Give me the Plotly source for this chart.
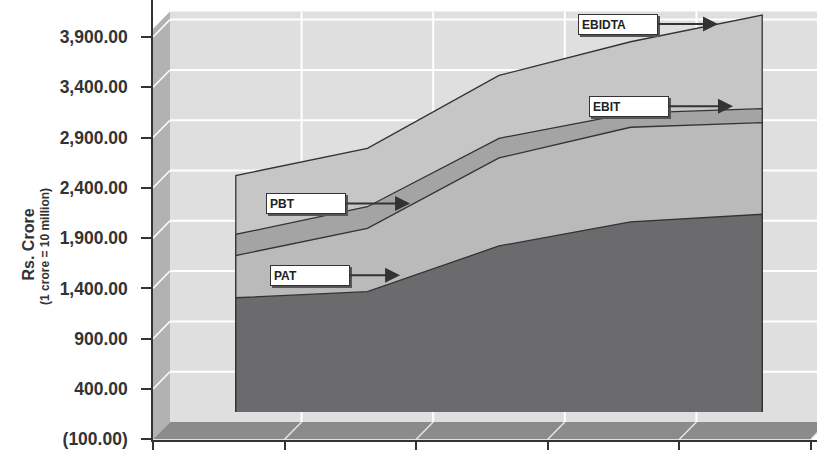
import numpy as np
import plotly.graph_objects as go

# ---- data (Rs. crore) ----
periods = [0, 1, 2, 3, 4]
ebidta = [2350, 2620, 3345, 3680, 3945]
ebit = [1765, 2040, 2720, 2970, 3015]
pbt = [1555, 1825, 2525, 2830, 2875]
pat = [1135, 1195, 1650, 1890, 1965]

tick_vals = [-100, 400, 900, 1400, 1900, 2400, 2900, 3400, 3900]
cat_edges = [-0.5, 0.5, 1.5, 2.5, 3.5, 4.5]


def fmt(v):
    s = f"{abs(v):,.2f}"
    return f"({s})" if v < 0 else s


tick_text = [fmt(v) for v in tick_vals]

# ---- geometry of the pseudo-3D box ----
W, H = 817, 450
ML, MR, MT, MB = 153, 0, 0, 6
PX_PER_CAT = 131.6
UNITS_PER_PX = 500 / 50.75
DX = 17 / PX_PER_CAT          # depth shift along x (category units)
DY = 17.5 * UNITS_PER_PX      # depth shift along y (value units)
x_range = [-0.5, -0.5 + (W - ML - MR) / PX_PER_CAT]
y_lo = -100 - 0.7 * UNITS_PER_PX
y_range = [y_lo, y_lo + (H - MT - MB) * UNITS_PER_PX]
WALL_TOP = 4152
BASE = -100

FONT = "Liberation Sans, Arial, sans-serif"
INK = "#333333"

fig = go.Figure()

shapes = []
# back wall
shapes.append(dict(type="rect", xref="x", yref="y", layer="below",
                   x0=-0.5 + DX, x1=6, y0=BASE + DY, y1=WALL_TOP,
                   fillcolor="#dfdfe0", line=dict(width=0)))
# side wall
shapes.append(dict(type="path", xref="x", yref="y", layer="below",
                   path=f"M {-0.5},{BASE} L {-0.5 + DX},{BASE + DY} "
                        f"L {-0.5 + DX},{WALL_TOP} L {-0.5},{WALL_TOP - DY} Z",
                   fillcolor="#b2b2b2", line=dict(width=0)))
# floor
shapes.append(dict(type="path", xref="x", yref="y", layer="below",
                   path=f"M {-0.5},{BASE} L {4.5},{BASE} L {4.5 + DX},{BASE + DY} "
                        f"L {-0.5 + DX},{BASE + DY} Z",
                   fillcolor="#8b8b8b", line=dict(width=0)))
# horizontal gridlines on back wall plus their diagonal on the side wall
for v in tick_vals[1:]:
    shapes.append(dict(type="line", xref="x", yref="y", layer="below",
                       x0=-0.5 + DX, x1=6, y0=v + DY, y1=v + DY,
                       line=dict(color="white", width=2)))
    shapes.append(dict(type="line", xref="x", yref="y", layer="below",
                       x0=-0.5, x1=-0.5 + DX, y0=v, y1=v + DY,
                       line=dict(color="white", width=1.5)))
# vertical gridlines on back wall plus their diagonal on the floor
for e in cat_edges[1:]:
    shapes.append(dict(type="line", xref="x", yref="y", layer="below",
                       x0=e + DX, x1=e + DX, y0=BASE + DY, y1=WALL_TOP,
                       line=dict(color="white", width=2)))
    shapes.append(dict(type="line", xref="x", yref="y", layer="below",
                       x0=e, x1=e + DX, y0=BASE, y1=BASE + DY,
                       line=dict(color="#e6e6e6", width=1.5)))

# ---- areas drawn on the back plane, largest first ----
series = [
    ("EBIDTA", ebidta, "#c6c6c6"),
    ("EBIT", ebit, "#a4a4a4"),
    ("PBT", pbt, "#bababa"),
    ("PAT", pat, "#6b6b6e"),
]
xs = np.array(periods, dtype=float) + DX
for name, vals, color in series:
    px = [xs[0]] + list(xs) + [xs[-1]]
    py = [DY] + [v + DY for v in vals] + [DY]
    fig.add_trace(go.Scatter(x=px, y=py, mode="lines", fill="toself",
                             fillcolor=color, line=dict(color=INK, width=1.3),
                             name=name, hoverinfo="skip", showlegend=False))

# ---- callout labels with arrows ----
callouts = [
    # name, values, category position of arrow tip, box offset (px), nudge (px)
    ("EBIDTA", ebidta, 3.664, -100, 0),
    ("EBIT", ebit, 3.778, -104, 3.5),
    ("PBT", pbt, 1.324, -104, 2),
    ("PAT", pat, 1.248, -90, 5),
]
annotations = []
for name, vals, pos, off, nudge in callouts:
    tip_y = float(np.interp(pos, periods, vals)) + DY
    common = dict(x=pos + DX, y=tip_y, xref="x", yref="y", axref="pixel",
                  ayref="pixel", ax=off, ay=0, width=72, height=13,
                  align="left", borderpad=3, borderwidth=1)
    # drop shadow
    annotations.append(dict(common, text=" ", bgcolor="#555555",
                            bordercolor="#555555",
                            showarrow=True, arrowcolor="rgba(0,0,0,0)",
                            xshift=2, yshift=nudge - 2))
    annotations.append(dict(common, text=f"<b>{name}</b>",
                            font=dict(family=FONT, size=12, color="#222222"),
                            bgcolor="white", bordercolor=INK,
                            showarrow=True, arrowhead=2, arrowsize=1.5,
                            arrowwidth=2, arrowcolor=INK, standoff=0,
                            yshift=nudge))

# axis title
annotations.append(dict(x=(17.5 - ML) / (W - ML - MR), y=(444 - 246.7) / 444,
                        xref="paper", yref="paper", showarrow=False,
                        text="<b>Rs. Crore</b>", textangle=-90,
                        font=dict(family=FONT, size=16, color=INK)))
annotations.append(dict(x=(36.7 - ML) / (W - ML - MR), y=(444 - 248.5) / 444,
                        xref="paper", yref="paper", showarrow=False,
                        text="<b>(1 crore = 10 million)</b>", textangle=-90,
                        font=dict(family=FONT, size=12, color=INK)))

fig.update_layout(
    width=W, height=H,
    margin=dict(l=ML, r=MR, t=MT, b=MB),
    paper_bgcolor="white", plot_bgcolor="white",
    shapes=shapes, annotations=annotations,
    xaxis=dict(range=x_range, showgrid=False, zeroline=False,
               tickvals=cat_edges, showticklabels=False,
               ticks="outside", ticklen=10, tickwidth=1.5, tickcolor=INK,
               showline=True, linecolor=INK, linewidth=1.5, fixedrange=True),
    yaxis=dict(range=y_range, showgrid=False, zeroline=False,
               tickvals=tick_vals, ticktext=tick_text,
               ticks="outside", ticklen=10, tickwidth=1.5, tickcolor=INK,
               ticklabelstandoff=10, ticklabeloverflow="allow",
               tickfont=dict(family=FONT, size=17.5, color=INK, weight="bold"),
               showline=True, linecolor=INK, linewidth=1.5, fixedrange=True),
)

fig.write_html("out.html")
